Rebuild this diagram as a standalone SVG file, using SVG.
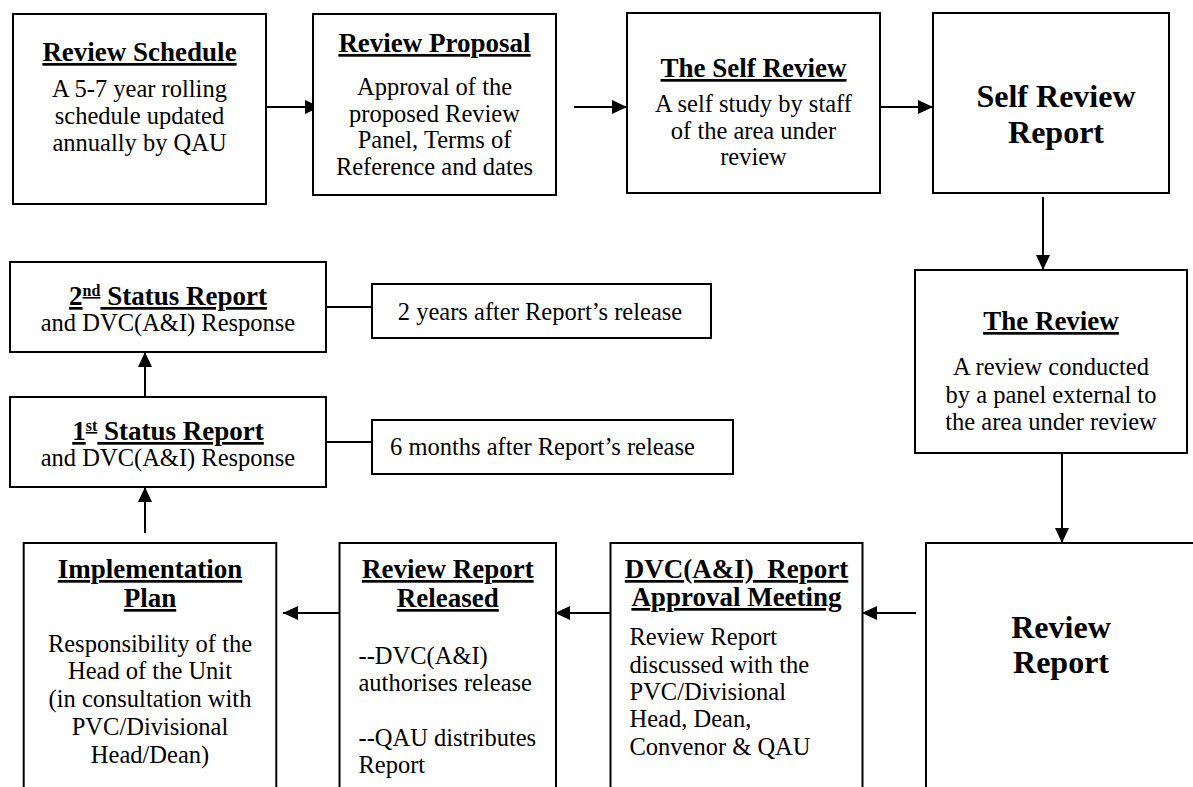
<svg xmlns="http://www.w3.org/2000/svg" width="1193" height="787" viewBox="0 0 1193 787">
<defs>
<style>
.box{fill:#fff;stroke:#000;stroke-width:2}
.ln{stroke:#000;stroke-width:2;fill:none}
.t{font-family:"Liberation Serif","Times New Roman",serif;font-size:24.5px;fill:#000}
.h{font-weight:bold;font-size:27px;text-decoration:underline}
.big{font-weight:bold;font-size:32px}
.c{text-anchor:middle}
</style>
<marker id="ah" markerUnits="userSpaceOnUse" markerWidth="15" markerHeight="14" refX="15" refY="7" orient="auto">
<path d="M0,0 L15,7 L0,14 Z" fill="#000"/>
</marker>
</defs>
<rect width="1193" height="787" fill="#fff"/>
<g id="connectors">
<path class="ln" d="M266,107 H320" marker-end="url(#ah)"/>
<path class="ln" d="M574,107 H627" marker-end="url(#ah)"/>
<path class="ln" d="M880,107 H933" marker-end="url(#ah)"/>
<path class="ln" d="M1043,197 V270" marker-end="url(#ah)"/>
<path class="ln" d="M1062,453 V543" marker-end="url(#ah)"/>
<path class="ln" d="M916,613 H862" marker-end="url(#ah)"/>
<path class="ln" d="M610,613 H555" marker-end="url(#ah)"/>
<path class="ln" d="M339,613 H283" marker-end="url(#ah)"/>
<path class="ln" d="M145,533 V487" marker-end="url(#ah)"/>
<path class="ln" d="M145,397 V352" marker-end="url(#ah)"/>
<path class="ln" d="M326,307 H372"/>
<path class="ln" d="M326,442 H372"/>
</g>
<g id="review-schedule">
<rect class="box" x="13" y="14" width="253" height="190"/>
<text class="t h c" x="139.5" y="61">Review Schedule</text>
<text class="t c" x="139.5" y="97">A 5-7 year rolling</text>
<text class="t c" x="139.5" y="124">schedule updated</text>
<text class="t c" x="139.5" y="151">annually by QAU</text>
</g>
<g id="review-proposal">
<rect class="box" x="313" y="14" width="243" height="181"/>
<text class="t h c" x="434.5" y="52">Review Proposal</text>
<text class="t c" x="434.5" y="95">Approval of the</text>
<text class="t c" x="434.5" y="122">proposed Review</text>
<text class="t c" x="434.5" y="148">Panel, Terms of</text>
<text class="t c" x="434.5" y="175">Reference and dates</text>
</g>
<g id="self-review">
<rect class="box" x="627" y="13" width="253" height="180"/>
<text class="t h c" x="753.5" y="77">The Self Review</text>
<text class="t c" x="753.5" y="112">A self study by staff</text>
<text class="t c" x="753.5" y="139">of the area under</text>
<text class="t c" x="753.5" y="165">review</text>
</g>
<g id="self-review-report">
<rect class="box" x="933" y="13" width="236" height="180"/>
<text class="t big c" x="1056" y="107">Self Review</text>
<text class="t big c" x="1056" y="143">Report</text>
</g>
<g id="the-review">
<rect class="box" x="915" y="270" width="272" height="183"/>
<text class="t h c" x="1051" y="330">The Review</text>
<text class="t c" x="1051" y="375">A review conducted</text>
<text class="t c" x="1051" y="403">by a panel external to</text>
<text class="t c" x="1051" y="430">the area under review</text>
</g>
<g id="review-report">
<rect class="box" x="926" y="543" width="290" height="260"/>
<text class="t big c" x="1061" y="638">Review</text>
<text class="t big c" x="1061" y="673">Report</text>
</g>
<g id="dvc-approval">
<rect class="box" x="610.5" y="543" width="252" height="260"/>
<text class="t h c" x="736.5" y="578">DVC(A&amp;I)&#160; Report</text>
<text class="t h c" x="736.5" y="606">Approval Meeting</text>
<text class="t" x="629.5" y="645">Review Report</text>
<text class="t" x="629.5" y="673">discussed with the</text>
<text class="t" x="629.5" y="700">PVC/Divisional</text>
<text class="t" x="629.5" y="727">Head, Dean,</text>
<text class="t" x="629.5" y="755">Convenor &amp; QAU</text>
</g>
<g id="report-released">
<rect class="box" x="339.5" y="543" width="216.5" height="260"/>
<text class="t h c" x="447.8" y="578">Review Report</text>
<text class="t h c" x="447.8" y="607">Released</text>
<text class="t" x="358.5" y="664">--DVC(A&amp;I)</text>
<text class="t" x="358.5" y="691">authorises release</text>
<text class="t" x="358.5" y="746">--QAU distributes</text>
<text class="t" x="358.5" y="773">Report</text>
</g>
<g id="implementation-plan">
<rect class="box" x="23.7" y="543" width="252.6" height="260"/>
<text class="t h c" x="150" y="578">Implementation</text>
<text class="t h c" x="150" y="607">Plan</text>
<text class="t c" x="150" y="652">Responsibility of the</text>
<text class="t c" x="150" y="679">Head of the Unit</text>
<text class="t c" x="150" y="707">(in consultation with</text>
<text class="t c" x="150" y="735">PVC/Divisional</text>
<text class="t c" x="150" y="763">Head/Dean)</text>
</g>
<g id="status-2">
<rect class="box" x="10" y="262" width="316" height="90"/>
<text class="t h c" x="168" y="305">2<tspan font-size="16" dy="-9">nd</tspan><tspan dy="9"> Status Report</tspan></text>
<text class="t c" x="168" y="331">and DVC(A&amp;I) Response</text>
</g>
<g id="status-1">
<rect class="box" x="10" y="397" width="316" height="90"/>
<text class="t h c" x="168" y="440">1<tspan font-size="16" dy="-9">st</tspan><tspan dy="9"> Status Report</tspan></text>
<text class="t c" x="168" y="466">and DVC(A&amp;I) Response</text>
</g>
<g id="note-2-years">
<rect class="box" x="372" y="284" width="339" height="54"/>
<text class="t c" x="540" y="320">2 years after Report’s release</text>
</g>
<g id="note-6-months">
<rect class="box" x="372" y="420" width="361" height="54"/>
<text class="t c" x="542.5" y="455">6 months after Report’s release</text>
</g>
</svg>
